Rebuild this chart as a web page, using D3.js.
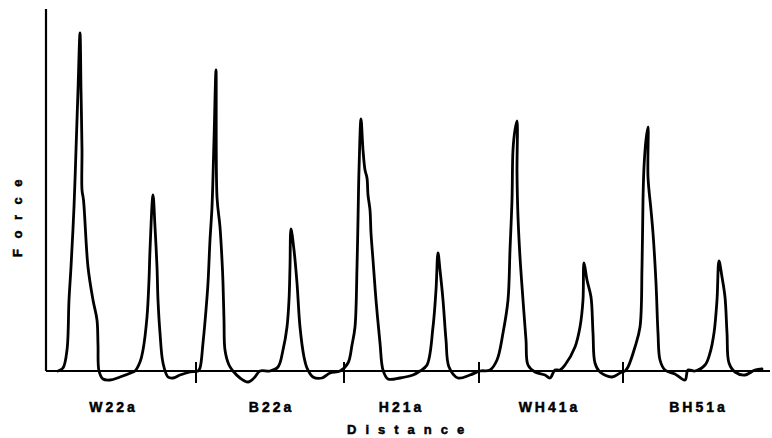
<!DOCTYPE html>
<html>
<head>
<meta charset="utf-8">
<script src="https://cdn.jsdelivr.net/npm/d3@7"></script>
<style>
  html, body { margin: 0; padding: 0; background: #fff; }
  svg { display: block; }
  text { font-family: "Liberation Sans", Arial, sans-serif; font-weight: bold; fill: #000; stroke: #000; stroke-width: 0.5px; }
</style>
</head>
<body>
<svg id="chart" width="772" height="438"></svg>
<script>
// Trace of force versus distance (arbitrary units)
const distance = [
  12,17,21,23,25,28,30,32,34,35,36,36,37.5,42,47,51,52,53,57,64,74,87,
  89,94,97,101,103,104,107,109,111,112,114,117,122,127,134,144,152,
  154,157,160,162,164,166,168,170,171,174,176,177,178,179,183,187,194,202,208,214,224,
  232,237,241,243,244,245,248,251,254,258,261,267,276,284,294,
  302,306,309,311,312,313,315,317,319,321,322,324,325,327,330,334,337,342,354,367,374,
  381,387,390,392,394,397,400,403,412,424,434,
  444,451,457,462,464,466,467,469,471,471,472,474,477,480,482,489,499,504,509,514,
  519,529,534,537,538,541,545,547,549,554,566,574,579,
  582,589,594,596,597,598,600,602,602,605,607,610,612,614,619,629,639,642,649,
  659,664,668,671,673,676,679,681,683,689,699,709,716
];
const force = [
  0,3,21,71,104,164,221,281,338,281,221,181,171,104,71,51,26,0,-8,-9,-6,-1,
  0,9,21,54,91,121,176,144,104,71,38,8,-6,-7,-4,-1,0,
  3,28,61,88,131,164,231,301,174,144,111,88,51,21,6,0,-7,-11,-7,0,0,
  4,21,44,71,104,142,121,88,44,14,3,-6,-7,-2,0,
  8,26,44,104,151,201,252,221,201,193,176,161,138,111,71,28,1,-8,-7,-4,0,
  6,44,81,118,101,71,31,4,-7,-4,0,
  1,11,38,71,121,171,221,241,250,198,154,114,71,31,6,-1,-4,-7,1,1,
  6,24,44,71,108,91,74,38,8,-1,-6,-2,0,
  4,24,44,104,171,204,231,244,194,161,138,88,38,11,1,-3,-9,1,0,
  6,18,38,71,110,94,74,38,8,-1,-4,1,2
];
const sampleLabels = ["W22a", "B22a", "H21a", "WH41a", "BH51a"];
const labelPositions = [66, 224, 354, 502, 651];
const separatorTicks = [150, 298, 433, 577];
const xTitle = "Distance";
const yTitle = "Force";

const svg = d3.select("#chart");
const x = d3.scaleLinear().domain([0, 724]).range([46, 770]);
const y = d3.scaleLinear().domain([0, 362]).range([371, 9]);

const pts = distance.map((d, i) => [d, force[i]]);

// axes
svg.append("line")
  .attr("x1", x(0)).attr("x2", x(0))
  .attr("y1", y(362)).attr("y2", y(0))
  .attr("stroke", "#000").attr("stroke-width", 2.2);
svg.append("line")
  .attr("x1", x(0)).attr("x2", x(724))
  .attr("y1", y(0)).attr("y2", y(0))
  .attr("stroke", "#000").attr("stroke-width", 2.2);

// separator ticks
svg.selectAll("line.sep").data(separatorTicks).enter().append("line")
  .attr("class", "sep")
  .attr("x1", d => x(d)).attr("x2", d => x(d))
  .attr("y1", y(0) - 9).attr("y2", y(0) + 12)
  .attr("stroke", "#000").attr("stroke-width", 2);

// trace
const line = d3.line()
  .x(d => x(d[0]))
  .y(d => y(d[1]))
  .curve(d3.curveCatmullRom.alpha(0.5));
svg.append("path")
  .datum(pts)
  .attr("d", line)
  .attr("fill", "none")
  .attr("stroke", "#000")
  .attr("stroke-width", 2.8)
  .attr("stroke-linejoin", "round")
  .attr("stroke-linecap", "round");

// sample labels
svg.selectAll("text.lab").data(sampleLabels).enter().append("text")
  .attr("class", "lab")
  .attr("x", (d, i) => x(labelPositions[i]) + 1.5)
  .attr("y", 412)
  .attr("text-anchor", "middle")
  .style("font-size", "14px")
  .style("letter-spacing", "3px")
  .text(d => d);

// axis titles
svg.append("text")
  .attr("x", 347).attr("y", 434)
  .style("font-size", "13px")
  .style("letter-spacing", "9px")
  .text(xTitle);
svg.append("text")
  .attr("transform", "translate(22,257) rotate(-90)")
  .style("font-size", "13px")
  .style("letter-spacing", "10.5px")
  .text(yTitle);
</script>
</body>
</html>
